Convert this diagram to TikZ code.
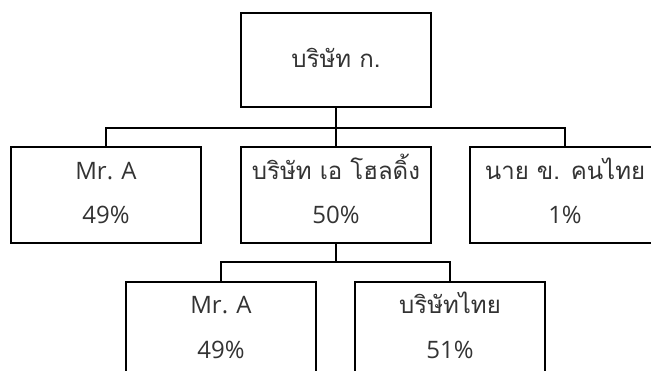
\documentclass[tikz,border=0pt]{standalone}
\usepackage{fontspec}
\setmainfont{Open Sans}
\newfontfamily\thaifont[Script=Thai]{Loma}
\begin{document}
\begin{tikzpicture}[x=1pt,y=-1pt,
  orgbox/.style={draw=black,line width=2pt,minimum width=190pt,inner sep=0pt,fill=white},
  conn/.style={draw=black,line width=2pt},
  lbl/.style={anchor=base,inner sep=0pt,text=black!80,font=\fontsize{24}{28}\selectfont},
  thlbl/.style={anchor=base,inner sep=0pt,text=black!80,font=\thaifont\fontsize{24}{28}\selectfont}]
\useasboundingbox (0,0) rectangle (651,370);
\clip (0,0) rectangle (651,370);
\fill[white] (0,0) rectangle (651,370);
% boxes
\node[orgbox,minimum height=94pt] (top) at (336,60) {};
\node[orgbox,minimum height=96pt] (m1) at (106,195) {};
\node[orgbox,minimum height=96pt] (m2) at (336,195) {};
\node[orgbox,minimum height=96pt] (m3) at (565,195) {};
\node[orgbox,minimum height=96pt] (b1) at (221,330) {};
\node[orgbox,minimum height=96pt] (b2) at (450,330) {};
% junctions
\coordinate (j1) at (336,128);
\coordinate (j2) at (336,262);
% connectors
\draw[conn] (top.south) -- (j1);
\draw[conn] (m1.north) |- (j1) -| (m3.north);
\draw[conn] (j1) -- (m2.north);
\draw[conn] (m2.south) -- (j2);
\draw[conn] (b1.north) |- (j2) -| (b2.north);
% texts
\node[thlbl] (ttop) at (336,67) {บริษัท ก.};
\node[lbl] (tm1a) at (106,179) {Mr. A};
\node[lbl] (tm1b) at (106,223) {49\%};
\node[thlbl] (tm2a) at (336,179) {บริษัท เอ โฮลดิ้ง};
\node[lbl] (tm2b) at (336,223) {50\%};
\node[thlbl] (tm3a) at (565,179) {นาย ข. คนไทย};
\node[lbl] (tm3b) at (565,223) {1\%};
\node[lbl] (tb1a) at (221,313) {Mr. A};
\node[lbl] (tb1b) at (221,358) {49\%};
\node[thlbl] (tb2a) at (450,313) {บริษัทไทย};
\node[lbl] (tb2b) at (450,358) {51\%};
\end{tikzpicture}
\end{document}
